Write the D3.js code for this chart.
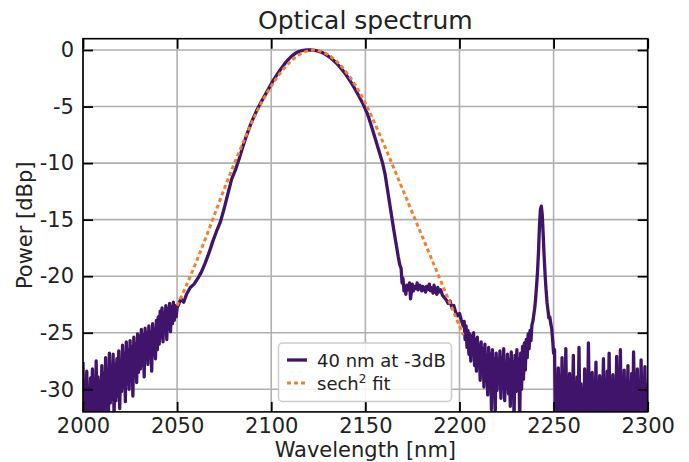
<!DOCTYPE html>
<html><head><meta charset="utf-8">
<script src="https://cdn.jsdelivr.net/npm/d3@7"></script>
<style>body{margin:0;background:#fff}svg{display:block}</style>
</head><body>
<svg id="c" width="689" height="462"></svg>
<script>
// ---------------- DATA ----------------
const xTicks = [2000, 2050, 2100, 2150, 2200, 2250, 2300];
const yTicks = [0, -5, -10, -15, -20, -25, -30];
const legendLabels = ["40 nm at -3dB", "sech", " fit"];

// measured spectrum, noisy left wing (2000.0 .. 2050.0, 0.5 nm grid)
const noiseLeftStart = 2000.0;
const noiseStep = 0.5;
const noiseLeft = [
-27.6,-33,-29.8,-33,-28.4,-33,-30.1,-33,-29.0,-33,
-28.2,-33,-29.5,-32.4,-27.5,-33,-28.9,-33,-29.3,-33,
-27.9,-31.8,-28.6,-33,-27.2,-31.5,-28.8,-32.6,-26.8,-31.2,
-28.1,-30.9,-26.9,-32.4,-27.8,-31.0,-27.3,-30.6,-26.6,-31.7,
-27.4,-30.2,-26.1,-29.8,-26.9,-31.1,-25.8,-29.5,-26.5,-30.0,
-25.7,-29.2,-26.3,-30.6,-25.4,-28.8,-26.0,-29.4,-25.1,-28.5,
-25.3,-28.2,-24.7,-27.9,-25.2,-28.9,-24.6,-27.4,-25.0,-27.8,
-24.4,-27.1,-24.9,-28.4,-24.2,-26.9,-24.7,-27.3,-23.9,-26.5,
-23.6,-26.0,-23.1,-25.4,-22.8,-25.8,-23.3,-24.9,-22.6,-25.6,
-22.9,-24.6,-22.4,-24.9,-22.7,-24.2,-22.3,-23.9,-22.6,-23.6,
-22.8];

// measured spectrum, main pulse and shoulder
const mainWl = [2050.5,2052,2053.5,2055,2057,2059,2061,2063,2065,2067,2069,2071,2073,2075,2077,2079,2081,2083,2085,2087,2089,2091,2093,2095,2097,2099,2101,2103,2105,2107,2109,2111,2113,2115,2117,2119,2121,2123,2125,2127,2129,2131,2133,2135,2137,2139,2141,2143,2145,2147,2149,2151,2153,2155,2157,2159,2160.5,2162,2163.5,2165,2166.5,2167.5,2168.3,2169,2169.5,2170,2170.5,2171,2171.5,2172,2173,2173.5,2174,2175,2175.5,2176,2177,2177.5,2178,2179,2180,2180.5,2181,2182,2182.5,2183,2184,2184.5,2185,2186,2186.5,2187,2188,2188.5,2189,2190,2191,2192,2193,2194,2195,2196,2197,2198,2199,2200,2201,2202];
const mainPower = [-22.6,-22.0,-22.3,-21.6,-21.0,-20.7,-20.2,-19.6,-18.8,-17.9,-16.9,-16.0,-15.2,-14.0,-12.7,-11.4,-10.6,-9.6,-8.5,-7.5,-6.6,-5.8,-5.1,-4.5,-3.9,-3.3,-2.7,-2.2,-1.7,-1.25,-0.85,-0.52,-0.27,-0.11,-0.03,0,0,-0.03,-0.1,-0.22,-0.4,-0.62,-0.9,-1.22,-1.6,-2.02,-2.5,-3.02,-3.6,-4.2,-4.85,-5.6,-6.6,-7.7,-8.8,-9.9,-11.0,-12.6,-14.2,-15.8,-17.3,-18.3,-19.0,-19.3,-20.6,-20.2,-21.3,-20.9,-21.6,-20.8,-21.2,-20.6,-22.0,-20.7,-21.3,-20.9,-21.1,-20.6,-21.2,-20.8,-21.3,-20.9,-21.0,-21.4,-20.9,-21.2,-20.7,-21.3,-21.0,-21.5,-20.8,-21.2,-21.6,-21.0,-21.4,-21.2,-21.7,-21.9,-22.1,-22.4,-22.2,-22.8,-22.6,-23.2,-23.5,-23.3,-23.9,-24.4];

// measured spectrum, noisy region after the pulse (2202.5 .. 2238.0)
const noiseMidStart = 2202.5;
const noiseMid = [
-24.0,-25.6,-24.4,-26.3,-24.8,-26.9,-25.1,-27.5,-25.3,-26.8,
-25.0,-27.9,-25.6,-28.4,-25.4,-27.6,-26.1,-29.2,-25.8,-28.5,
-26.4,-29.8,-26.0,-28.9,-27.1,-30.5,-26.3,-29.4,-26.9,-31.8,
-26.5,-29.7,-27.3,-32.2,-26.8,-30.1,-27.5,-29.3,-26.6,-30.8,
-27.2,-29.6,-26.4,-31.0,-27.8,-29.9,-26.9,-30.4,-27.4,-31.5,
-26.7,-29.8,-27.6,-32.6,-27.0,-30.2,-26.5,-29.5,-27.3,-32.8,
-26.8,-30.0,-26.2,-29.1,-25.9,-28.3,-25.6,-27.2,-25.1,-26.4,
-24.8,-25.7];

// measured spectrum, narrow peak near 2243 nm
const peakWl = [2238.5,2239,2239.5,2240,2240.5,2241,2241.5,2242,2242.5,2243,2243.5,2244,2244.5,2245,2245.5,2246,2246.5,2247,2247.5,2248,2248.5,2249,2249.5,2250];
const peakPower = [-24.3,-24.0,-23.4,-22.8,-21.9,-20.8,-19.5,-17.8,-15.6,-14.1,-13.8,-14.6,-16.4,-18.3,-19.9,-21.2,-22.3,-23.0,-23.7,-23.6,-24.2,-24.6,-25.6,-26.8];

// measured spectrum, noise floor (2250.5 .. 2300.0)
const noiseFloorStart = 2250.5;
const noiseFloor = [
-26.5,-33,-29.3,-33,-28.1,-31.4,-30.2,-33,-27.2,-33,
-29.6,-33,-26.4,-32.2,-29.0,-33,-28.6,-33,-30.4,-31.6,
-27.0,-33,-29.8,-33,-28.9,-33,-26.3,-33,-29.5,-31.9,
-30.1,-33,-28.2,-33,-29.7,-33,-25.9,-31.5,-29.2,-33,
-28.5,-33,-30.3,-33,-27.6,-32.0,-29.4,-33,-28.8,-33,
-29.9,-31.3,-27.3,-33,-30.0,-33,-28.4,-33,-26.8,-33,
-29.6,-32.1,-28.7,-33,-30.2,-33,-27.1,-33,-29.3,-31.7,
-26.5,-33,-29.8,-33,-28.3,-33,-30.1,-32.4,-27.9,-33,
-29.5,-33,-28.6,-33,-26.7,-31.6,-29.9,-33,-28.2,-33,
-30.3,-33,-27.4,-32.3,-29.1,-33,-28.0,-33,-29.6,-33];

// sech^2 fit
const fitWl = [2050,2055,2060,2065,2070,2075,2080,2085,2090,2095,2100,2105,2110,2115,2120,2122.5,2125,2130,2135,2140,2145,2150,2155,2160,2165,2170,2175,2180,2185,2190,2195,2200,2202];
const fitPower = [-22.6,-20.8,-18.8,-16.7,-14.5,-12.3,-10.2,-8.2,-6.3,-4.6,-3.2,-2.0,-1.05,-0.4,-0.05,0,-0.05,-0.4,-1.05,-2.0,-3.2,-4.7,-6.5,-8.4,-10.4,-12.4,-14.4,-16.4,-18.4,-20.4,-22.4,-24.4,-25.2];

// ---------------- CHART ----------------
const W = 689, H = 462;
const m = {l: 83, r: 41.3, t: 38.7, b: 50.1};
const FONT = "DejaVu Sans, sans-serif";
const PURPLE = "#40146a", ORANGE = "#f0812f";

const x = d3.scaleLinear().domain([2000, 2300]).range([m.l, W - m.r]);
const y = d3.scaleLinear().domain([-32, 1]).range([H - m.b, m.t]);
const pw = W - m.l - m.r, ph = H - m.t - m.b;

const svg = d3.select("#c");

const gridPts = (start, vals) => vals.map((v, i) => [start + i * noiseStep, v]);
const spectrum = [].concat(
  gridPts(noiseLeftStart, noiseLeft),
  mainWl.map((w, i) => [w, mainPower[i]]),
  gridPts(noiseMidStart, noiseMid),
  peakWl.map((w, i) => [w, peakPower[i]]),
  gridPts(noiseFloorStart, noiseFloor)
);
const fit = fitWl.map((w, i) => [w, fitPower[i]]);

svg.append("defs").append("clipPath").attr("id", "clip")
  .append("rect").attr("x", m.l).attr("y", m.t).attr("width", pw).attr("height", ph);

// grid
svg.append("g").selectAll("line").data(xTicks).join("line")
  .attr("x1", d => x(d)).attr("x2", d => x(d)).attr("y1", m.t).attr("y2", H - m.b)
  .attr("stroke", "#b0b0b0").attr("stroke-width", 1.6);
svg.append("g").selectAll("line").data(yTicks).join("line")
  .attr("y1", d => y(d)).attr("y2", d => y(d)).attr("x1", m.l).attr("x2", W - m.r)
  .attr("stroke", "#b0b0b0").attr("stroke-width", 1.6);

const line = d3.line().x(d => x(d[0])).y(d => y(d[1]));
const plot = svg.append("g").attr("clip-path", "url(#clip)");
plot.append("path").datum(spectrum).attr("d", line)
  .attr("fill", "none").attr("stroke", PURPLE).attr("stroke-width", 3.3)
  .attr("stroke-linejoin", "round");
plot.append("path").datum(fit).attr("d", d3.line().curve(d3.curveCatmullRom).x(d => x(d[0])).y(d => y(d[1])))
  .attr("fill", "none").attr("stroke", ORANGE).attr("stroke-width", 3)
  .attr("stroke-dasharray", "4,3");

// axes
const TL = 10;
const fmt = d => String(d);
const styleAxis = g => {
  g.select(".domain").remove();
  g.selectAll(".tick line").attr("stroke", "#000").attr("stroke-width", 1.8);
  g.selectAll("text").attr("font-family", FONT).attr("font-size", 21).attr("fill", "#222");
};
svg.append("g").attr("transform", `translate(0,${H - m.b})`)
  .call(d3.axisBottom(x).tickValues(xTicks).tickSize(-TL).tickPadding(6).tickFormat(fmt))
  .call(styleAxis);
svg.append("g").attr("transform", `translate(0,${m.t})`)
  .call(d3.axisTop(x).tickValues(xTicks).tickSize(-TL).tickFormat(""))
  .call(styleAxis);
svg.append("g").attr("transform", `translate(${m.l},0)`)
  .call(d3.axisLeft(y).tickValues(yTicks).tickSize(-TL).tickPadding(9).tickFormat(fmt))
  .call(styleAxis);
svg.append("g").attr("transform", `translate(${W - m.r},0)`)
  .call(d3.axisRight(y).tickValues(yTicks).tickSize(-TL).tickFormat(""))
  .call(styleAxis);
svg.append("rect").attr("x", m.l).attr("y", m.t).attr("width", pw).attr("height", ph)
  .attr("fill", "none").attr("stroke", "#000").attr("stroke-width", 1.6);

// titles
svg.append("text").attr("x", m.l + pw / 2).attr("y", 29).attr("text-anchor", "middle")
  .attr("font-family", FONT).attr("font-size", 25).attr("fill", "#222").text("Optical spectrum");
svg.append("text").attr("x", m.l + pw / 2).attr("y", 457).attr("text-anchor", "middle")
  .attr("font-family", FONT).attr("font-size", 21).attr("fill", "#222").text("Wavelength [nm]");
svg.append("text").attr("transform", `translate(32,${m.t + ph / 2}) rotate(-90)`).attr("text-anchor", "middle")
  .attr("font-family", FONT).attr("font-size", 21).attr("fill", "#222").text("Power [dBp]");

// legend
const lg = svg.append("g");
lg.append("rect").attr("x", 278.5).attr("y", 343).attr("width", 173).attr("height", 58.5)
  .attr("rx", 4).attr("fill", "#fff").attr("fill-opacity", 0.85)
  .attr("stroke", "#cccccc").attr("stroke-width", 1.5);
lg.append("line").attr("x1", 287).attr("x2", 307).attr("y1", 360).attr("y2", 360)
  .attr("stroke", PURPLE).attr("stroke-width", 3.3);
lg.append("line").attr("x1", 287).attr("x2", 307).attr("y1", 383).attr("y2", 383)
  .attr("stroke", ORANGE).attr("stroke-width", 3).attr("stroke-dasharray", "4,3");
lg.append("text").attr("x", 317).attr("y", 366.5).attr("font-family", FONT).attr("font-size", 18)
  .attr("fill", "#222").text(legendLabels[0]);
const t2 = lg.append("text").attr("x", 317).attr("y", 389.5).attr("font-family", FONT).attr("font-size", 18)
  .attr("fill", "#222");
t2.append("tspan").text(legendLabels[1]);
t2.append("tspan").attr("dy", -7).attr("font-size", 12).text("2");
t2.append("tspan").attr("dy", 7).text(legendLabels[2]);
</script>
</body></html>
